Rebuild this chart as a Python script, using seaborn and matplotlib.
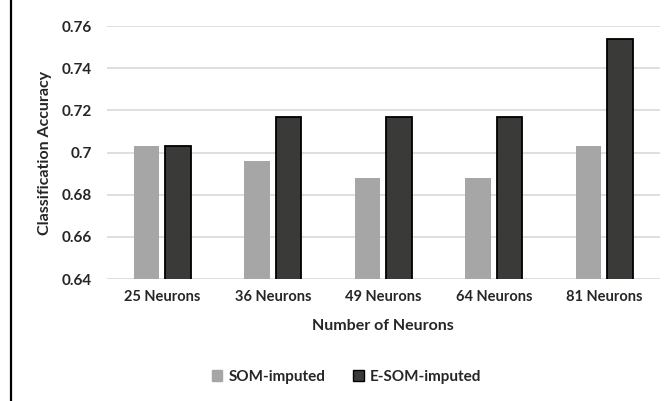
import matplotlib
matplotlib.use("Agg")
import matplotlib.pyplot as plt
import matplotlib.patches as mpatches
import pandas as pd
import seaborn as sns

# values
categories = ["25 Neurons", "36 Neurons", "49 Neurons", "64 Neurons", "81 Neurons"]
som_imputed = [0.703, 0.696, 0.688, 0.688, 0.703]
esom_imputed = [0.703, 0.717, 0.717, 0.717, 0.754]
series_names = ["SOM-imputed", "E-SOM-imputed"]
y_ticks = [0.64, 0.66, 0.68, 0.70, 0.72, 0.74, 0.76]
y_tick_labels = ["0.64", "0.66", "0.68", "0.7", "0.72", "0.74", "0.76"]

df = pd.DataFrame({
    "neurons": categories * 2,
    "accuracy": som_imputed + esom_imputed,
    "method": [series_names[0]] * len(categories) + [series_names[1]] * len(categories),
})

sns.set_style("white")
plt.rcParams["font.family"] = ["Lato", "DejaVu Sans"]
plt.rcParams["font.weight"] = "bold"

colors = {"SOM-imputed": "#a6a6a6", "E-SOM-imputed": "#3a3a38"}

fig = plt.figure(figsize=(6.65, 4.01), dpi=100)
ax = fig.add_axes([0.161, 0.304, 0.831, 0.631])

sns.barplot(data=df, x="neurons", y="accuracy", hue="method", palette=colors,
            width=0.57, gap=0.19, ax=ax, legend=False, zorder=3)

# dark series has black outline
for patch in ax.containers[1]:
    patch.set_edgecolor("black")
    patch.set_linewidth(1.3)
for patch in ax.containers[0]:
    patch.set_linewidth(0)

ax.set_ylim(0.64, 0.76)
ax.set_yticks(y_ticks)
ax.set_yticklabels(y_tick_labels, fontsize=11, fontweight="bold")
ax.tick_params(axis="x", labelsize=10.5, length=0, pad=8)
ax.tick_params(axis="y", length=0, pad=11)
for lbl in ax.get_xticklabels():
    lbl.set_fontweight("bold")
ax.grid(axis="y", color="#d9d9d9", linewidth=1.2, zorder=0)
ax.set_axisbelow(True)
sns.despine(ax=ax, left=True, right=True, top=True, bottom=True)

ax.set_xlabel("Number of Neurons", fontsize=11.5, fontweight="bold", labelpad=11)
ax.set_ylabel("Classification Accuracy", fontsize=11.5, fontweight="bold", labelpad=7)

handles = [mpatches.Patch(facecolor=colors[n], edgecolor="black" if n == "E-SOM-imputed" else colors[n],
                          linewidth=1.0, label=n) for n in series_names]
fig.legend(handles=handles, loc="center", bbox_to_anchor=(0.521, 0.06), ncol=2,
           frameon=False, handlelength=0.7, handleheight=0.7,
           handletextpad=0.4, columnspacing=1.8, prop={"weight": "bold", "size": 11})

# partial outer frame (left and top edges visible)
frame = mpatches.Rectangle((11 / 665, -0.2), 1.2, 1.2 + (1 - 5 / 401), transform=fig.transFigure,
                           fill=False, edgecolor="black", linewidth=1.6)
fig.add_artist(frame)

fig.savefig("out.png", dpi=100)
